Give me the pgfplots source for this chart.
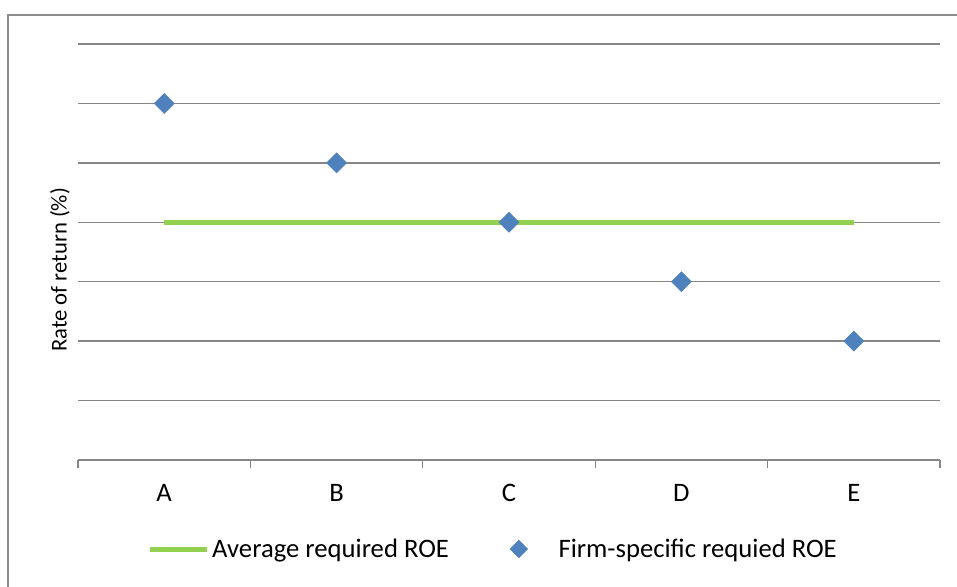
\documentclass[border=0pt]{standalone}
\usepackage{pgfplots}
\pgfplotsset{compat=1.18}
\usepackage{fontspec}
\setmainfont{Carlito}

\definecolor{gridgray}{HTML}{868686}
\definecolor{framegray}{HTML}{8C8C8C}
\definecolor{roeblue}{HTML}{4F81BD}
\definecolor{roegreen}{HTML}{92D050}

\begin{document}
\begin{tikzpicture}[x=0.75pt,y=0.75pt]
\useasboundingbox (-78,-126) rectangle (879,460);
\draw[framegray, line width=1.2pt] (-70,-200) -- (-70,445) -- (960,445);
\begin{axis}[
    at={(0,0)}, anchor=south west,
    scale only axis,
    width=646.5pt, height=312pt,
    xmin=-0.5, xmax=4.5,
    ymin=0, ymax=7,
    axis x line*=bottom,
    axis y line*=left,
    y axis line style={draw=none},
    x axis line style={draw=gridgray, line width=1pt, -},
    xtick={0,1,2,3,4},
    xticklabels={A,B,C,D,E},
    minor xtick={-0.5,0.5,1.5,2.5,3.5,4.5},
    major tick length=0pt,
    minor tick length=6pt,
    tick align=outside,
    minor tick style={gridgray, line width=1pt},
    xticklabel style={anchor=center, yshift=-24.75pt},
    ytick={1,2,3,4,5,6,7},
    yticklabels={},
    ytick style={draw=none},
    ymajorgrids,
    major grid style={gridgray, line width=1pt},
    clip=false,
    font=\fontsize{20}{24}\selectfont,
    ylabel={Rate of return (\%)},
    ylabel style={at={(rel axis cs:-0.021,0.457)}, anchor=center,
        font=\fontsize{17}{20}\selectfont},
    legend columns=2,
    legend style={at={(rel axis cs:0.080,-0.214)}, anchor=west, draw=none,
        fill=none, inner sep=0pt, font=\fontsize{20}{24}\selectfont,
        /tikz/every even column/.append style={column sep=29.5pt}},
]
\addplot[roegreen, line width=3.75pt, mark=none,
    legend image code/.code={\draw[roegreen, line width=3.75pt] (0pt,0pt) -- (43pt,0pt);}]
    coordinates {(0,4) (4,4)};
\addlegendentry{Average required ROE}
\addplot[only marks, mark=square*, mark size=5.3pt,
    mark options={fill=roeblue, draw=roeblue, rotate=45},
    legend image code/.code={
        \path[draw=none, fill=none] (0pt,0pt) -- (48.75pt,0pt);
        \path[draw=none, fill=roeblue] (14pt,0pt) -- (21pt,7pt) -- (28pt,0pt) -- (21pt,-7pt) -- cycle;}]
    coordinates {(0,6) (1,5) (2,4) (3,3) (4,2)};
\addlegendentry{Firm-specific requied ROE}
\end{axis}
\end{tikzpicture}
\end{document}
